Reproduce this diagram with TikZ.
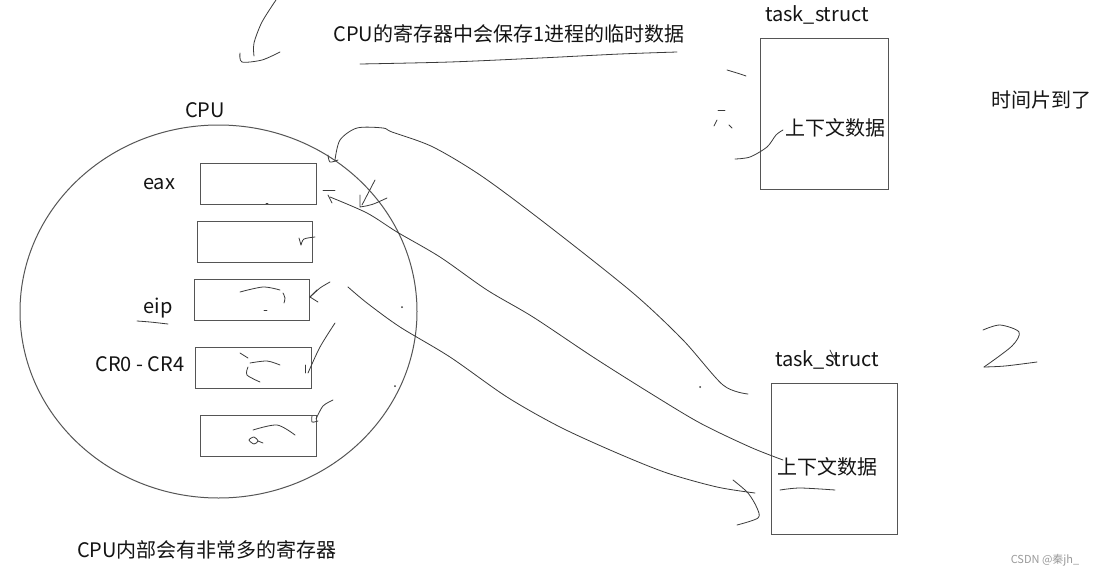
\documentclass[tikz,border=0pt]{standalone}
\usepackage{fontspec}
\setmainfont{Noto Sans CJK SC}
\usetikzlibrary{shapes.geometric}
\definecolor{boxc}{HTML}{555555}
\definecolor{txt}{HTML}{141414}
\definecolor{inkc}{HTML}{3A3A3A}
\definecolor{wm}{HTML}{9A9A9A}
\tikzset{
  regbox/.style={draw=boxc, line width=1pt, inner sep=0pt, minimum width=116pt, minimum height=41pt},
  tsbox/.style={draw=boxc, line width=1pt, inner sep=0pt, minimum width=127pt, minimum height=151pt},
  lbl/.style={font=\fontsize{20}{22}\selectfont, text=txt, inner sep=0pt},
  ink/.style={draw=inkc, line width=0.8pt, line cap=round, line join=round},
}
\begin{document}
\begin{tikzpicture}[x=1pt,y=-1pt]
\useasboundingbox (0,0) rectangle (1095,576);
\fill[white] (0,0) rectangle (1095,576);

% CPU
\node[draw=boxc, line width=1pt, ellipse, minimum width=397pt, minimum height=373pt, inner sep=0pt] (cpu) at (218.5,311.5) {};
\node[lbl] (cpulbl) at (205,110) {CPU};

\node[regbox] (r1) at (258,183.5) {};
\node[regbox, minimum width=115pt] (r2) at (254.5,241.5) {};
\node[regbox, minimum width=115pt] (r3) at (251.5,299.5) {};
\node[regbox] (r4) at (253,367.5) {};
\node[regbox] (r5) at (258,435.5) {};

\node[lbl] (eax) at (159,184) {eax};
\node[lbl] (eip) at (158,308) {eip};
\node[lbl] (cr) at (140,364) {CR0 - CR4};

% task_struct boxes
\node[tsbox, minimum width=128pt] (ts1) at (824,113.5) {};
\node[lbl] (ts1lbl) at (817,15) {task\_struct};
\node[lbl] (ctx1) at (835,128) {上下文数据};

\node[tsbox, minimum width=126pt] (ts2) at (834,458.5) {};
\node[lbl] (ts2lbl) at (827,360) {task\_struct};
\node[lbl] (ctx2) at (827,467) {上下文数据};

% texts
\node[lbl] (title) at (509,34) {CPU的寄存器中会保存1进程的临时数据};
\node[lbl] (slice) at (1041,100) {时间片到了};
\node[lbl] (many) at (207,550) {CPU内部会有非常多的寄存器};
\node[font=\fontsize{11}{12}\selectfont, text=wm, inner sep=0pt] (wmk) at (1045,560) {CSDN @秦jh\_};

% big strokes
\draw[ink] plot[smooth] coordinates {(328,155) (330,162) (338,160)};
\draw[ink] plot[smooth] coordinates {(335,160) (340,140) (357,128) (383,128) (392,132) (433,147) (483,177) (550,227) (633,293) (683,340) (723,385) (748,394)};
\draw[ink] plot[smooth] coordinates {(328,195) (332,203)};
\draw[ink] plot[smooth] coordinates {(330,197) (367,213) (397,232) (440,257) (487,290) (533,317) (593,357) (650,393) (700,423) (750,447) (783,460)};
\draw[ink] (323,190) -- (335,190);
\draw[ink] plot[smooth] coordinates {(348,287) (367,303) (400,327) (450,357) (507,397) (560,427) (617,453) (667,473) (717,487) (755,493)};
\draw[ink] plot[smooth] coordinates {(733,480) (748,493) (757,508) (758,518) (737,525)};

% small arrows near registers
\draw[ink] (375,180) -- (362,205);
\draw[ink] (360,195) -- (360,207) .. controls (372,205) .. (387,198);
\draw[ink] plot[smooth] coordinates {(315,237) (304,239) (301,245)};
\draw[ink] (301,245) -- (299,238);
\draw[ink] plot[smooth] coordinates {(330,282) (320,288) (310,297)};
\draw[ink] (310,297) -- (317,290);
\draw[ink] (310,297) -- (318,302);
\draw[ink] plot[smooth] coordinates {(335,323) (320,347) (308,373)};
\draw[ink] (305,365) -- (305,373);
\draw[ink] plot[smooth] coordinates {(333,400) (323,406) (316,419)};
\draw[ink] plot[smooth] coordinates {(312,416) (312,422) (318,421)};

% scribbles in boxes
\draw[ink] plot[smooth] coordinates {(240,292) (263,287) (280,290)};
\draw[ink] plot[smooth] coordinates {(283,293) (285,298) (284,303)};
\draw[ink] (264,310) -- (267,310);
\draw[ink] (240,353) -- (248,358);
\draw[ink] plot[smooth] coordinates {(250,363) (267,361) (280,365)};
\draw[ink] plot[smooth] coordinates {(248,367) (247,375) (260,382)};
\draw[ink] plot[smooth] coordinates {(253,430) (277,425) (295,435)};
\draw[ink] plot[smooth cycle] coordinates {(249,440) (254,437) (258,441) (254,444)};
\draw[ink] (258,441) -- (263,443);
\draw[ink] (266,203) -- (268,203);

% dots
\fill[inkc] (402,307) circle (1pt);
\fill[inkc] (395,386) circle (1pt);
\fill[inkc] (700,387) circle (1pt);

% top strokes
\draw[ink] plot[smooth] coordinates {(276,0) (262,22) (254,43) (254,56)};
\draw[ink] plot[smooth] coordinates {(240,53) (242,62) (262,60) (280,52)};
\draw[ink] plot[smooth] coordinates {(360,64) (450,62) (540,58) (620,54) (677,52)};

% near top task_struct
\draw[ink] plot[smooth] coordinates {(727,70) (737,73) (746,76)};
\draw[ink] (718,110) -- (725,110);
\draw[ink] (717,120) -- (714,126);
\draw[ink] (729,125) -- (732,128);
\draw[ink] plot[smooth] coordinates {(735,159) (750,157) (767,147) (776,135) (783,130)};

% near bottom task_struct
\draw[ink] plot[smooth] coordinates {(780,490) (800,488) (835,490)};
\draw[ink] (830,350) -- (836,362);
\draw[ink] plot[smooth] coordinates {(983,330) (1000,325) (1019,332) (1012,346) (984,367)};
\draw[ink] plot[smooth] coordinates {(984,367) (1005,366) (1037,362)};

% eip underline
\draw[ink] plot[smooth] coordinates {(137,321) (150,322) (168,324)};
\end{tikzpicture}
\end{document}
